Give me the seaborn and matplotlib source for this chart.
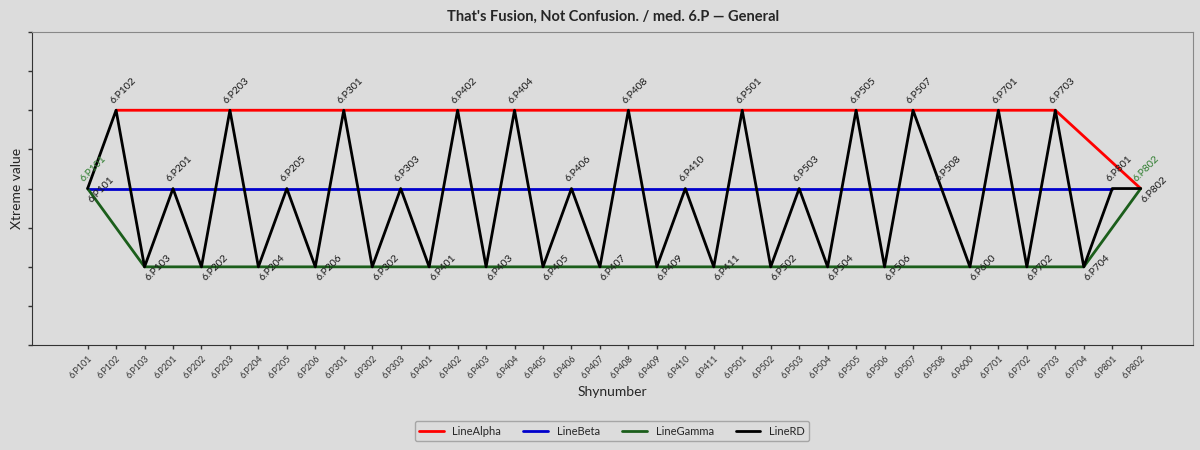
import matplotlib
matplotlib.use('Agg')
import matplotlib.pyplot as plt
import numpy as np
import pandas as pd
import seaborn as sns

# Data
shynumbers = ['6.P101', '6.P102', '6.P103', '6.P201', '6.P202', '6.P203', '6.P204', '6.P205',
              '6.P206', '6.P301', '6.P302', '6.P303', '6.P401', '6.P402', '6.P403', '6.P404',
              '6.P405', '6.P406', '6.P407', '6.P408', '6.P409', '6.P410', '6.P411', '6.P501',
              '6.P502', '6.P503', '6.P504', '6.P505', '6.P506', '6.P507', '6.P508', '6.P600',
              '6.P701', '6.P702', '6.P703', '6.P704', '6.P801', '6.P802']

nan = np.nan
line_alpha = [nan] + [6] * 34 + [nan, nan, 4]
line_beta = [4] * 37 + [nan]
line_gamma = [4, nan] + [2] * 34 + [nan, 4]
line_rd = [4, 6, 2, 4, 2, 6, 2, 4, 2, 6, 2, 4, 2, 6, 2, 6, 2, 4, 2, 6, 2, 4, 2, 6,
           2, 4, 2, 6, 2, 6, 4, 2, 6, 2, 6, 2, 4, 4]

series = {'LineAlpha': line_alpha, 'LineBeta': line_beta,
          'LineGamma': line_gamma, 'LineRD': line_rd}
colors = {'LineAlpha': '#ff0000', 'LineBeta': '#0000cc',
          'LineGamma': '#1b5e1b', 'LineRD': '#000000'}

frames = []
for name, vals in series.items():
    frames.append(pd.DataFrame({'pos': range(len(shynumbers)), 'value': vals, 'line': name}))
df = pd.concat(frames).dropna()

bg = '#dcdcdc'
sns.set_style('white')
plt.rcParams['font.family'] = ['Lato', 'DejaVu Sans']

fig = plt.figure(figsize=(12, 4.5), dpi=100, facecolor=bg)
ax = fig.add_axes([0.027, 0.233, 0.967, 0.696])
ax.set_facecolor(bg)

sns.lineplot(data=df, x='pos', y='value', hue='line', palette=colors, sort=False,
             estimator=None, linewidth=2, ax=ax, legend=False)

# point labels on the RD line
for i, (lab, v) in enumerate(zip(shynumbers, line_rd)):
    if v >= 4 and lab not in ('6.P101', '6.P802'):
        ax.annotate(lab, (i, v), xytext=(-8, 5), textcoords='offset pixels',
                    rotation=45, ha='left', va='bottom', fontsize=7.5, color='#1a1a1a')
    else:
        ax.annotate(lab, (i, v), xytext=(-1, -1), textcoords='offset pixels',
                    rotation=45, ha='left', va='center', fontsize=7.5, color='#1a1a1a')
for i in (0, len(shynumbers) - 1):
    ax.annotate(shynumbers[i], (i, line_rd[i]), xytext=(-9, 5), textcoords='offset pixels',
                rotation=45, ha='left', va='bottom', fontsize=7.5, color='#2e7d2e')

ax.set_xlim(-1.94, 38.83)
ax.set_ylim(0, 8)
ax.set_yticks(range(0, 9))
ax.set_yticklabels([])
ax.set_xticks(range(len(shynumbers)))
ax.set_xticklabels(shynumbers, rotation=45, ha='right', rotation_mode='anchor',
                   fontsize=6.5, color='#333333')
ax.tick_params(axis='both', length=3, width=1, color='#333333', bottom=True, left=True)
for s in ax.spines.values():
    s.set_color('#888888')
ax.spines['left'].set_color('#333333')
ax.spines['bottom'].set_color('#333333')

ax.set_xlabel('Shynumber', fontsize=10, labelpad=4)
ax.set_ylabel('Xtreme value', fontsize=10, labelpad=0)
ax.set_title("That's Fusion, Not Confusion. / med. 6.P \u2014 General",
             fontsize=10.5, fontweight='bold', pad=8)

handles = [plt.Line2D([], [], color=colors[n], lw=2) for n in series]
fig.legend(handles, list(series), loc='center', bbox_to_anchor=(0.51, 0.042), ncol=4,
           fontsize=8, frameon=True, facecolor=bg, edgecolor='#999999',
           handlelength=2.2, columnspacing=2)

fig.savefig('out.png', dpi=100, facecolor=bg)
